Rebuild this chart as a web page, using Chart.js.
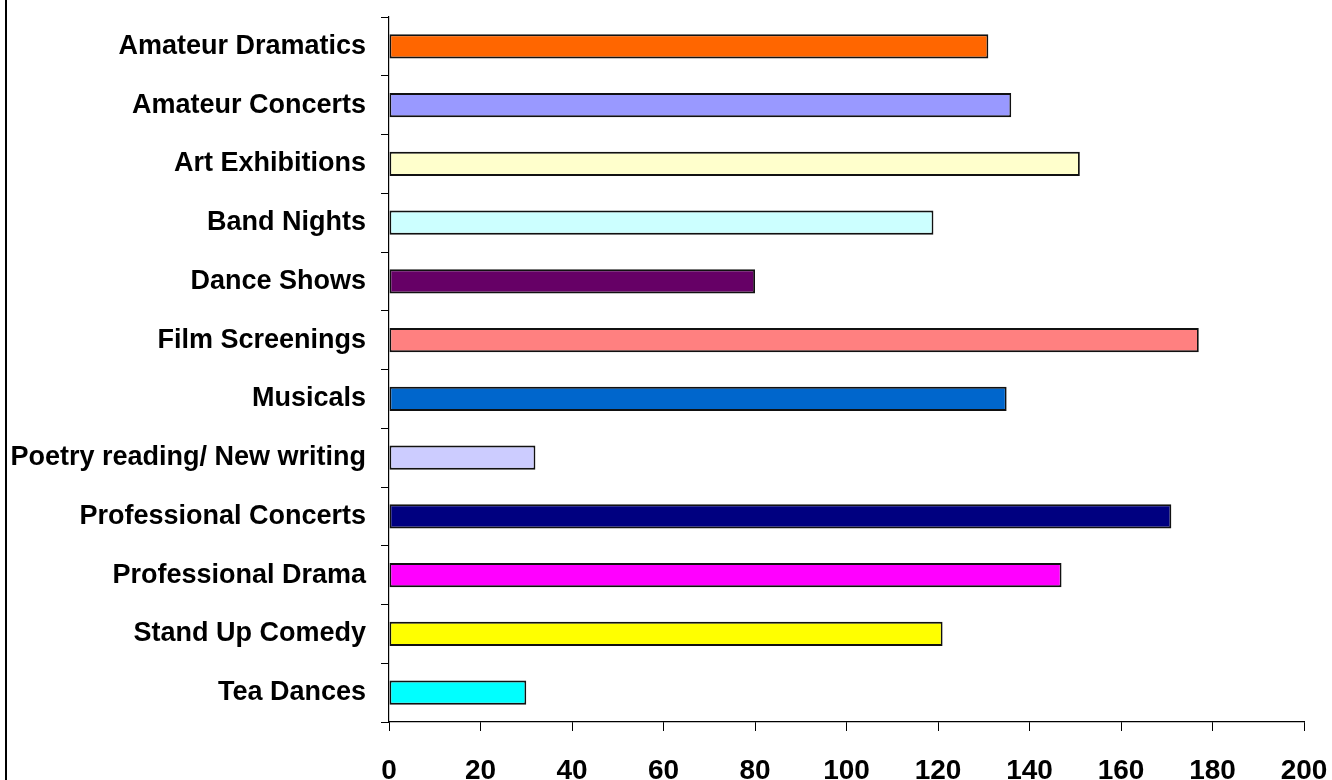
<!DOCTYPE html>
<html>
<head>
<meta charset="utf-8">
<script src="https://cdn.jsdelivr.net/npm/chart.js@4"></script>
<style>
  html, body { margin: 0; padding: 0; background: #fff; }
  #eventsChart { display: block; }
</style>
</head>
<body>
<canvas id="eventsChart" width="1332" height="780"></canvas>
<script>
// Event types (top to bottom as in the picture)
const categories = [
  "Amateur Dramatics",
  "Amateur Concerts",
  "Art Exhibitions",
  "Band Nights",
  "Dance Shows",
  "Film Screenings",
  "Musicals",
  "Poetry reading/ New writing",
  "Professional Concerts",
  "Professional Drama",
  "Stand Up Comedy",
  "Tea Dances",
];

// Values
const values = [131, 136, 151, 119, 80, 177, 135, 32, 171, 147, 121, 30];

// x axis ticks
const xMin = 0;
const xMax = 200;
const xStep = 20;

// one colour per bar
const barColours = [
  "#FF6600", "#9999FF", "#FFFFCC", "#CCFFFF", "#660066", "#FF8080",
  "#0066CC", "#CCCCFF", "#000080", "#FF00FF", "#FFFF00", "#00FFFF",
];

// left frame line like the original
const frameLine = {
  id: "frameLine",
  afterDraw(chart) {
    const ctx = chart.ctx;
    ctx.save();
    ctx.fillStyle = "#000";
    ctx.fillRect(5, 0, 2, chart.height);
    ctx.restore();
  },
};

const fontFamily = "'Liberation Sans', Arial, sans-serif";

const chart = new Chart(document.getElementById("eventsChart"), {
  type: "bar",
  data: {
    labels: categories,
    datasets: [
      {
        data: values,
        backgroundColor: barColours,
        borderColor: "#111",
        borderWidth: 1.8,
        borderSkipped: false,
        categoryPercentage: 1,
        barPercentage: 0.41,
      },
    ],
  },
  options: {
    indexAxis: "y",
    responsive: false,
    animation: false,
    layout: { padding: { top: 17, right: 28, bottom: 0, left: 0 } },
    plugins: {
      legend: { display: false },
      tooltip: { enabled: false },
    },
    scales: {
      x: {
        min: xMin,
        max: xMax,
        ticks: {
          stepSize: xStep,
          color: "#000",
          padding: 23,
          font: { family: fontFamily, size: 28, weight: "bold" },
        },
        grid: { drawOnChartArea: false, tickLength: 9, color: "#000", lineWidth: 1 },
        border: { color: "#000", width: 1.2 },
        afterFit(scale) {
          scale.height = 58;
          scale.paddingLeft = 0;
          scale.paddingRight = 0;
        },
      },
      y: {
        ticks: {
          color: "#000",
          padding: 15,
          font: { family: fontFamily, size: 27, weight: "bold" },
        },
        grid: { drawOnChartArea: false, tickLength: 8, color: "#000", lineWidth: 1 },
        border: { color: "#000", width: 1.2 },
        afterFit(scale) {
          scale.width = 389;
          scale.paddingTop = 0;
          scale.paddingBottom = 0;
        },
      },
    },
  },
  plugins: [frameLine],
});
</script>
</body>
</html>
